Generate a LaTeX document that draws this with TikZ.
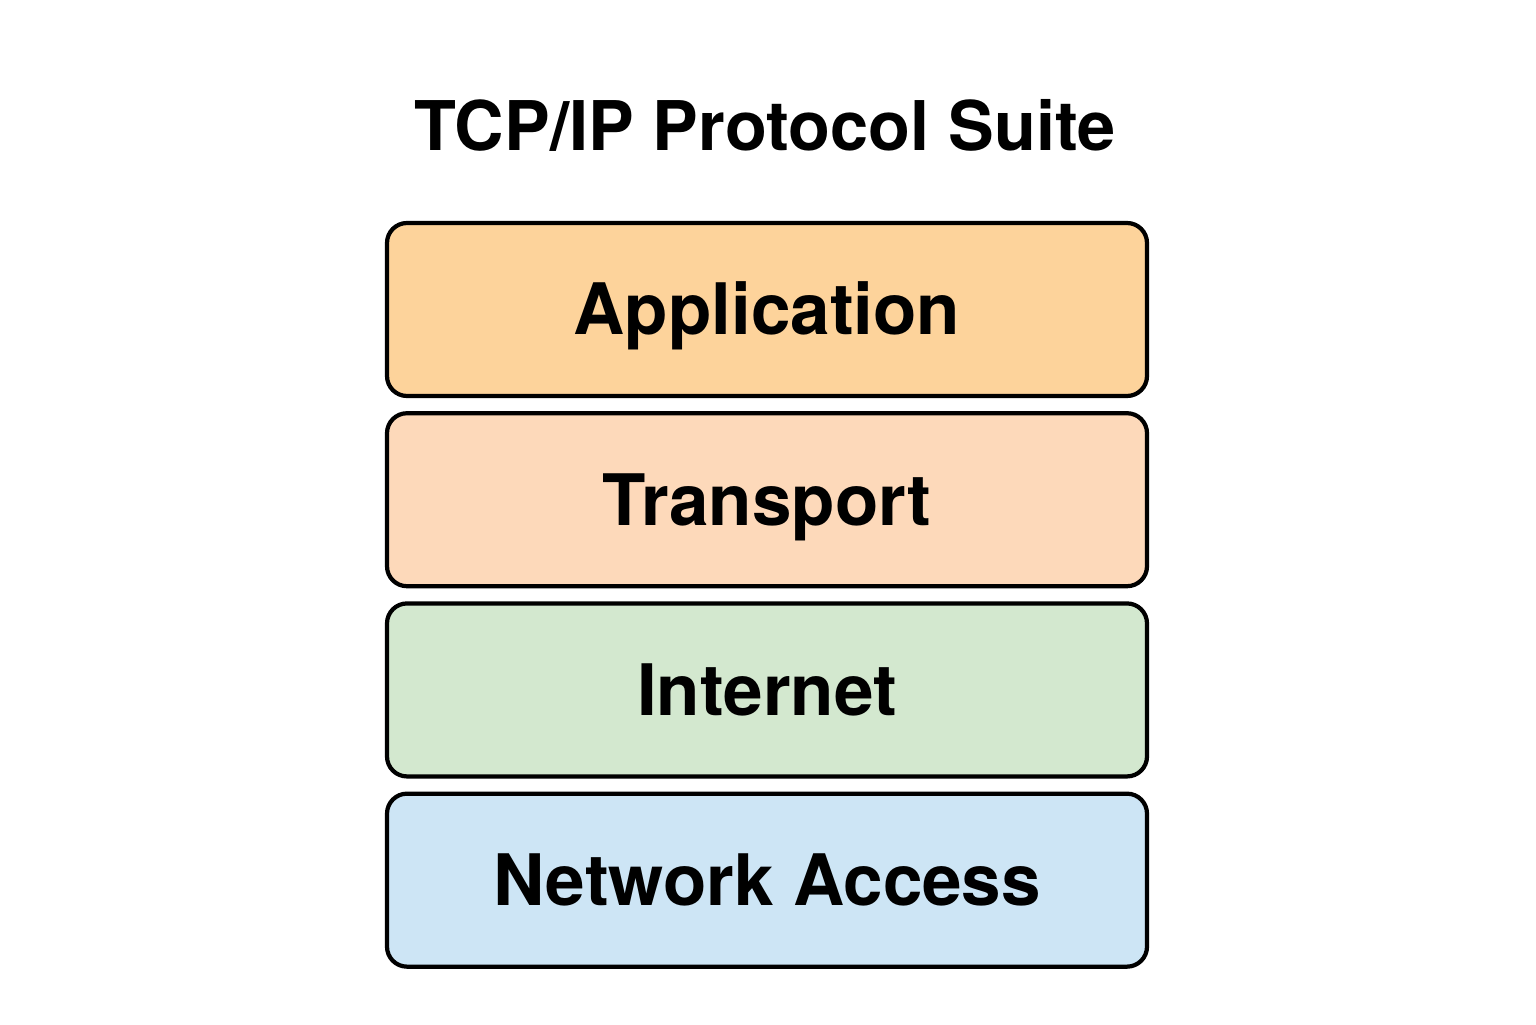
\documentclass[tikz,border=0pt]{standalone}
\usepackage{fontspec}
\setmainfont{TeX Gyre Heros}
\usepackage{xcolor}
\usetikzlibrary{positioning}

\definecolor{appcol}{HTML}{FDD39B}
\definecolor{transcol}{HTML}{FDD9BA}
\definecolor{netcol}{HTML}{D3E8CF}
\definecolor{accesscol}{HTML}{CDE5F5}

\begin{document}
\begin{tikzpicture}[
    layer/.style={draw=black, line width=1.2pt, rounded corners=0.2cm,
        minimum width=7.6cm, minimum height=1.73cm,
        text height=14.4pt, text depth=0pt,
        font=\fontsize{20.2}{24}\selectfont\bfseries},
    node distance=0.13cm
    ]
    \useasboundingbox (0,0) rectangle (15.36,10.24);

    \node[font=\fontsize{19.5}{23}\selectfont\bfseries] (title) at (7.65,8.99) {TCP/IP Protocol Suite};

    \node[layer, fill=appcol] (app) at (7.67,7.145) {Application};
    \node[layer, fill=transcol, below=of app] (trans) {Transport};
    \node[layer, fill=netcol, below=of trans] (inet) {Internet};
    \node[layer, fill=accesscol, below=of inet] (access) {Network Access};

\end{tikzpicture}
\end{document}
